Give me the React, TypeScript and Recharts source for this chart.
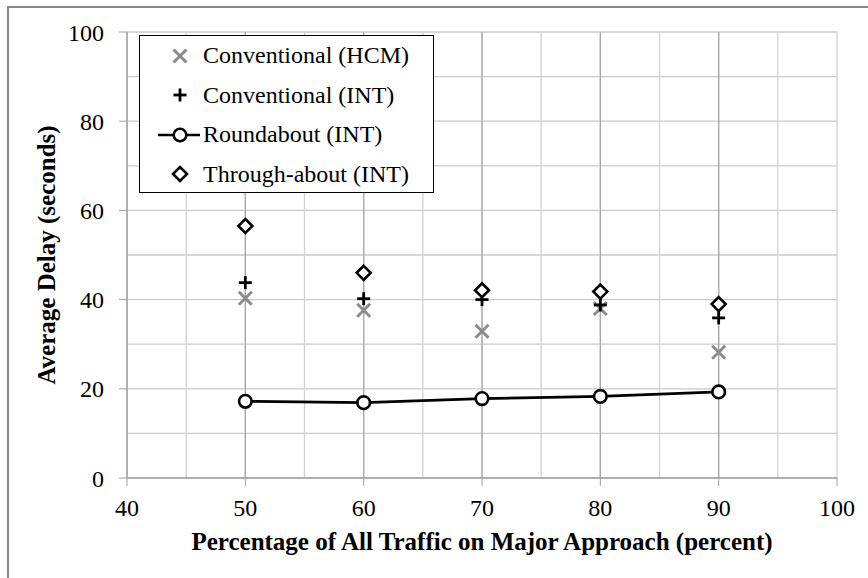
import React from 'react';
import {
  ScatterChart,
  Scatter,
  XAxis,
  YAxis,
  CartesianGrid,
} from 'recharts';

// traffic share on major approach (percent)
const pct = [50, 60, 70, 80, 90];
const convHcm = [40.3, 37.6, 32.9, 38.0, 28.2];
const convInt = [43.8, 40.2, 40.0, 38.8, 35.9];
const roundabout = [17.2, 16.9, 17.8, 18.3, 19.3];
const throughabout = [56.5, 46.0, 42.1, 41.8, 39.0];

const xTicks = [40, 50, 60, 70, 80, 90, 100];
const yTicks = [0, 20, 40, 60, 80, 100];
const minorX = [40, 45, 50, 55, 60, 65, 70, 75, 80, 85, 90, 95, 100];
const majorX = [50, 60, 70, 80, 90];
const gridY = [0, 5, 10, 15, 20, 25, 30, 35, 40, 45, 50, 55, 60, 65, 70, 75, 80, 85, 90, 95, 100];

const legendItems = [
  { key: 'hcm', label: 'Conventional (HCM)' },
  { key: 'int', label: 'Conventional (INT)' },
  { key: 'rnd', label: 'Roundabout (INT)' },
  { key: 'thr', label: 'Through-about (INT)' },
];

const FONT = '"Liberation Serif", "Times New Roman", serif';

const toPoints = (ys: number[]) => pct.map((x, i) => ({ x, y: ys[i] }));

const Cross = ({ cx, cy }: any) => (
  <g stroke="#8c8c8c" strokeWidth={3}>
    <line x1={cx - 6.5} y1={cy - 6.5} x2={cx + 6.5} y2={cy + 6.5} />
    <line x1={cx - 6.5} y1={cy + 6.5} x2={cx + 6.5} y2={cy - 6.5} />
  </g>
);

const Plus = ({ cx, cy }: any) => (
  <g stroke="#000" strokeWidth={2.8}>
    <line x1={cx - 6.5} y1={cy} x2={cx + 6.5} y2={cy} />
    <line x1={cx} y1={cy - 6.5} x2={cx} y2={cy + 6.5} />
  </g>
);

const Ring = ({ cx, cy }: any) => (
  <circle cx={cx} cy={cy} r={6.3} fill="#fff" stroke="#000" strokeWidth={2.6} />
);

const Diamond = ({ cx, cy }: any) => (
  <path
    d={`M${cx},${cy - 7} L${cx + 7},${cy} L${cx},${cy + 7} L${cx - 7},${cy} Z`}
    fill="#fff"
    stroke="#000"
    strokeWidth={2.6}
  />
);

const legendIcon = (key: string) => {
  if (key === 'hcm') return <svg width={44} height={20}><Cross cx={22} cy={10} /></svg>;
  if (key === 'int') return <svg width={44} height={20}><Plus cx={22} cy={10} /></svg>;
  if (key === 'thr') return <svg width={44} height={20}><Diamond cx={22} cy={10} /></svg>;
  return (
    <svg width={44} height={20}>
      <line x1={0} y1={10} x2={42} y2={10} stroke="#000" strokeWidth={2.6} />
      <Ring cx={22} cy={10} />
    </svg>
  );
};

const tickStyle = { fontFamily: FONT, fontSize: 24, fill: '#000' };
const titleStyle = { fontFamily: FONT, fontSize: 25, fontWeight: 'bold', fill: '#000' };

export default function App() {
  return (
    <div
      style={{
        position: 'absolute',
        left: 0,
        top: 0,
        width: 868,
        height: 578,
        background: '#fff',
      }}
    >
      <div
        style={{
          position: 'absolute',
          left: 7,
          top: 6,
          width: 861,
          height: 572,
          borderLeft: '2px solid #888',
          borderTop: '2px solid #888',
        }}
      />
      <ScatterChart
        width={868}
        height={578}
        margin={{ top: 32, right: 31, bottom: 20, left: 67 }}
        style={{ position: 'absolute', left: 0, top: 0 }}
      >
        <CartesianGrid horizontalValues={gridY} vertical={false} stroke="#cacaca" strokeWidth={1.3} />
        <CartesianGrid verticalValues={minorX} horizontal={false} stroke="#d2d2d2" strokeWidth={1.3} />
        <CartesianGrid verticalValues={majorX} horizontal={false} stroke="#a8a8a8" strokeWidth={1.3} />
        <XAxis
          type="number"
          dataKey="x"
          domain={[40, 100]}
          ticks={xTicks}
          height={80}
          tick={tickStyle}
          tickMargin={13}
          tickSize={8}
          axisLine={{ stroke: '#a0a0a0', strokeWidth: 1.5 }}
          tickLine={{ stroke: '#a0a0a0' }}
          label={{
            value: 'Percentage of All Traffic on Major Approach (percent)',
            position: 'insideBottom',
            offset: 8,
            style: titleStyle,
          }}
        />
        <YAxis
          type="number"
          dataKey="y"
          domain={[0, 100]}
          ticks={yTicks}
          width={60}
          tick={tickStyle}
          tickSize={8}
          tickMargin={15}
          axisLine={{ stroke: '#a0a0a0', strokeWidth: 1.5 }}
          tickLine={{ stroke: '#a0a0a0' }}
          label={{
            value: 'Average Delay (seconds)',
            angle: -90,
            position: 'insideLeft',
            offset: -21,
            style: { ...titleStyle, textAnchor: 'middle' },
          }}
        />
        <Scatter name="Conventional (HCM)" data={toPoints(convHcm)} shape={<Cross />} isAnimationActive={false} />
        <Scatter name="Conventional (INT)" data={toPoints(convInt)} shape={<Plus />} isAnimationActive={false} />
        <Scatter
          name="Roundabout (INT)"
          data={toPoints(roundabout)}
          line={{ stroke: '#000', strokeWidth: 2.6 }}
          shape={<Ring />}
          isAnimationActive={false}
        />
        <Scatter name="Through-about (INT)" data={toPoints(throughabout)} shape={<Diamond />} isAnimationActive={false} />
      </ScatterChart>
      <div
        style={{
          position: 'absolute',
          left: 139,
          top: 35,
          width: 295,
          height: 158,
          border: '1px solid #000',
          background: '#fff',
          boxSizing: 'border-box',
          paddingLeft: 18,
          fontFamily: FONT,
          fontSize: 24,
        }}
      >
        {legendItems.map((it) => (
          <div key={it.key} style={{ display: 'flex', alignItems: 'center', height: 39.5, whiteSpace: 'nowrap' }}>
            {legendIcon(it.key)}
            <span style={{ marginLeft: 1 }}>{it.label}</span>
          </div>
        ))}
      </div>
    </div>
  );
}
